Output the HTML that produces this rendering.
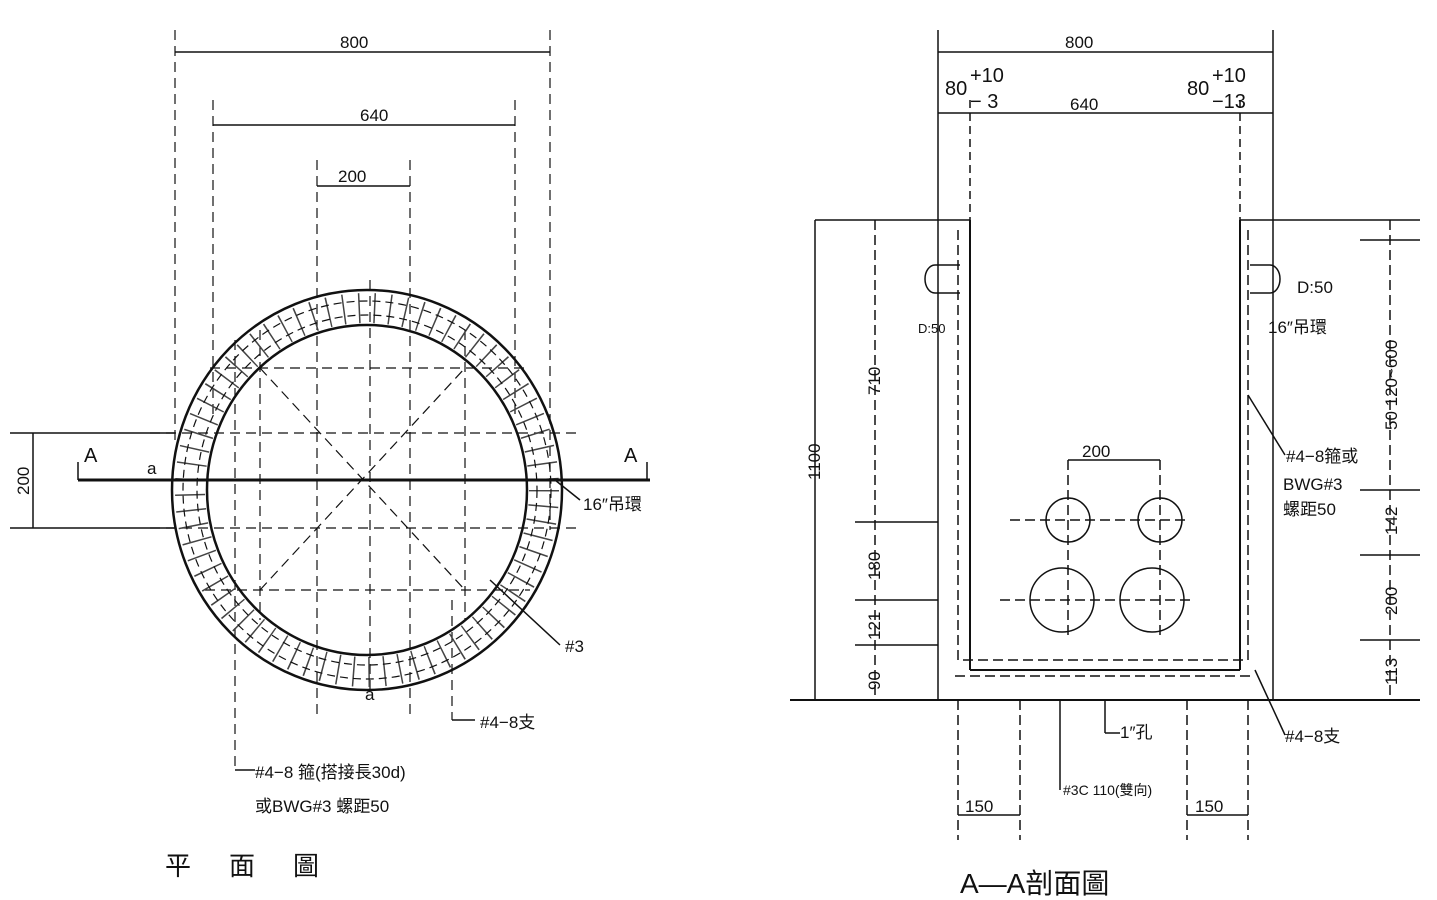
<!DOCTYPE html>
<html><head><meta charset="utf-8"><style>
html,body{margin:0;padding:0;background:#fff;}
svg{display:block;}
text{font-family:"Liberation Sans","Noto Sans CJK TC",sans-serif;fill:#111;}
</style></head><body>
<svg width="1437" height="900" viewBox="0 0 1437 900" xmlns="http://www.w3.org/2000/svg">
<g stroke="#111" fill="none" stroke-width="1.5">
<!-- LEFT PLAN -->
<line x1="175" y1="52" x2="550" y2="52"/>
<line x1="213" y1="125" x2="515" y2="125"/>
<line x1="317" y1="186" x2="410" y2="186"/>
<g stroke-dasharray="10,6" stroke-width="1.2">
<line x1="175" y1="30" x2="175" y2="440"/>
<line x1="550" y1="30" x2="550" y2="530"/>
<line x1="213" y1="100" x2="213" y2="420"/>
<line x1="515" y1="100" x2="515" y2="420"/>
<line x1="317" y1="160" x2="317" y2="720"/>
<line x1="410" y1="160" x2="410" y2="720"/>
<line x1="260" y1="330" x2="260" y2="620"/>
<line x1="465" y1="330" x2="465" y2="620"/>
<line x1="235" y1="340" x2="235" y2="770"/>
<line x1="452" y1="600" x2="452" y2="720"/>
<line x1="370" y1="280" x2="370" y2="690"/>
<line x1="210" y1="368" x2="525" y2="368"/>
<line x1="150" y1="433" x2="580" y2="433"/>
<line x1="150" y1="528" x2="580" y2="528"/>
<line x1="205" y1="590" x2="530" y2="590"/>
<line x1="260" y1="368" x2="465" y2="590"/>
<line x1="260" y1="590" x2="465" y2="368"/>
</g>
<line x1="10" y1="433" x2="175" y2="433"/>
<line x1="10" y1="528" x2="175" y2="528"/>
<line x1="33" y1="433" x2="33" y2="528"/>
<ellipse cx="367" cy="490" rx="177" ry="182" stroke-width="30" stroke-dasharray="1.5,14" stroke="#444"/>
<ellipse cx="367" cy="490" rx="195" ry="200" stroke-width="2.5"/>
<ellipse cx="367" cy="490" rx="160" ry="165" stroke-width="2.5"/>
<ellipse cx="367" cy="490" rx="184" ry="189" stroke-dasharray="8,5" stroke-width="1.2"/>
<ellipse cx="367" cy="490" rx="170" ry="175" stroke-dasharray="8,5" stroke-width="1.2"/>
<line x1="78" y1="480" x2="650" y2="480" stroke-width="3"/>
<line x1="78" y1="462" x2="78" y2="480"/>
<line x1="647" y1="462" x2="647" y2="480"/>
<line x1="555" y1="480" x2="580" y2="500"/>
<line x1="490" y1="580" x2="560" y2="645"/>
<line x1="452" y1="720" x2="475" y2="720"/>
<line x1="235" y1="770" x2="255" y2="770"/>

<!-- RIGHT SECTION -->
<line x1="938" y1="30" x2="938" y2="700"/>
<line x1="1273" y1="30" x2="1273" y2="700"/>
<line x1="938" y1="52" x2="1273" y2="52"/>
<line x1="938" y1="113" x2="1273" y2="113"/>
<line x1="970" y1="100" x2="970" y2="220" stroke-dasharray="8,5"/>
<line x1="1240" y1="100" x2="1240" y2="220" stroke-dasharray="8,5"/>
<line x1="815" y1="220" x2="970" y2="220"/>
<line x1="1240" y1="220" x2="1420" y2="220"/>
<line x1="970" y1="220" x2="970" y2="670" stroke-width="2"/>
<line x1="1240" y1="220" x2="1240" y2="670" stroke-width="2"/>
<line x1="970" y1="670" x2="1240" y2="670" stroke-width="2"/>
<line x1="790" y1="700" x2="1420" y2="700" stroke-width="2"/>
<path d="M958 230 V660 H1248 V230" stroke-dasharray="10,5"/>
<path d="M955 676 H1250" stroke-dasharray="10,5"/>
<path d="M960 265 H935 a10 14 0 0 0 0 28 H960"/>
<path d="M1250 265 H1270 a10 14 0 0 1 0 28 H1250"/>
<line x1="815" y1="220" x2="815" y2="700"/>
<line x1="875" y1="220" x2="875" y2="700" stroke-dasharray="10,5"/>
<line x1="855" y1="522" x2="938" y2="522"/>
<line x1="855" y1="600" x2="938" y2="600"/>
<line x1="855" y1="645" x2="938" y2="645"/>
<line x1="1390" y1="220" x2="1390" y2="700" stroke-dasharray="10,5"/>
<line x1="1360" y1="240" x2="1420" y2="240"/>
<line x1="1360" y1="490" x2="1420" y2="490"/>
<line x1="1360" y1="555" x2="1420" y2="555"/>
<line x1="1360" y1="640" x2="1420" y2="640"/>
<line x1="1068" y1="460" x2="1160" y2="460"/>
<circle cx="1068" cy="520" r="22"/>
<circle cx="1160" cy="520" r="22"/>
<circle cx="1062" cy="600" r="32"/>
<circle cx="1152" cy="600" r="32"/>
<g stroke-dasharray="10,5">
<line x1="1010" y1="520" x2="1185" y2="520"/>
<line x1="1000" y1="600" x2="1190" y2="600"/>
<line x1="1068" y1="460" x2="1068" y2="640"/>
<line x1="1160" y1="460" x2="1160" y2="640"/>
<line x1="958" y1="700" x2="958" y2="840"/>
<line x1="1020" y1="700" x2="1020" y2="840"/>
<line x1="1187" y1="700" x2="1187" y2="840"/>
<line x1="1248" y1="700" x2="1248" y2="840"/>
</g>
<line x1="958" y1="815" x2="1020" y2="815"/>
<line x1="1187" y1="815" x2="1248" y2="815"/>
<line x1="1060" y1="700" x2="1060" y2="790"/>
<line x1="1105" y1="700" x2="1105" y2="733"/>
<line x1="1105" y1="733" x2="1120" y2="733"/>
<line x1="1248" y1="395" x2="1285" y2="455"/>
<line x1="1255" y1="670" x2="1285" y2="735"/>
</g>
<g font-size="17">
<text x="340" y="48">800</text>
<text x="360" y="121">640</text>
<text x="338" y="182">200</text>
<text x="84" y="462" font-size="20">A</text>
<text x="624" y="462" font-size="20">A</text>
<text x="147" y="474">a</text>
<text x="365" y="700">a</text>
<text transform="translate(29,495) rotate(-90)">200</text>
<text x="583" y="510">16″吊環</text>
<text x="565" y="652">#3</text>
<text x="480" y="728">#4−8支</text>
<text x="255" y="778">#4−8 箍(搭接長30d)</text>
<text x="255" y="812">或BWG#3 螺距50</text>
<text x="165" y="875" font-size="26" letter-spacing="38">平面圖</text>

<text x="1065" y="48">800</text>
<text x="945" y="95" font-size="20">80</text>
<text x="970" y="82" font-size="20">+10</text>
<text x="970" y="108" font-size="20">− 3</text>
<text x="1187" y="95" font-size="20">80</text>
<text x="1212" y="82" font-size="20">+10</text>
<text x="1212" y="108" font-size="20">−13</text>
<text x="1070" y="110">640</text>
<text x="1082" y="457">200</text>
<text x="918" y="333" font-size="13">D:50</text>
<text x="1297" y="293">D:50</text>
<text x="1268" y="333">16″吊環</text>
<text x="1286" y="462">#4−8箍或</text>
<text x="1283" y="490">BWG#3</text>
<text x="1283" y="515">螺距50</text>
<text x="1285" y="742">#4−8支</text>
<text x="1120" y="738">1″孔</text>
<text x="1063" y="795" font-size="14">#3C 110(雙向)</text>
<text x="965" y="812">150</text>
<text x="1195" y="812">150</text>
<text transform="translate(820,480) rotate(-90)">1100</text>
<text transform="translate(880,395) rotate(-90)">710</text>
<text transform="translate(880,580) rotate(-90)">180</text>
<text transform="translate(880,640) rotate(-90)">121</text>
<text transform="translate(880,690) rotate(-90)">90</text>
<text transform="translate(1397,430) rotate(-90)">50 120~600</text>
<text transform="translate(1397,535) rotate(-90)">142</text>
<text transform="translate(1397,615) rotate(-90)">200</text>
<text transform="translate(1397,685) rotate(-90)">113</text>
<text x="960" y="893" font-size="28">A—A剖面圖</text>
</g>
</svg>
</body></html>
